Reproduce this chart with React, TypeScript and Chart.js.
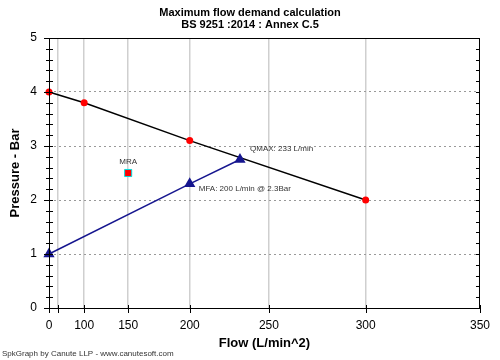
import React, { useEffect, useRef } from "react";
import { Chart, registerables, LinearScale } from "chart.js";

Chart.register(...registerables);

class SquareScale extends LinearScale {
  static id = "square";
  static defaults = { ticks: { callback: (v: any) => String(v) } };
  getPixelForValue(value: number) {
    if (value === null || value === undefined) return NaN;
    const a = this.min * this.min;
    const b = this.max * this.max;
    return this.getPixelForDecimal((value * value - a) / (b - a));
  }
  getValueForPixel(pixel: number) {
    const a = this.min * this.min;
    const b = this.max * this.max;
    const t = this.getDecimalForPixel(pixel);
    return Math.sqrt(Math.max(0, a + t * (b - a)));
  }
}
Chart.register(SquareScale as any);

// ---- data ----
const flowTicks = [0, 50, 100, 150, 200, 250, 300, 350];
const hiddenFlowLabels = [50];
const pressureTicks = [0, 1, 2, 3, 4, 5];
const pressureMinorStep = 0.2;

const supplyFlow = [0, 100, 200, 300];
const supplyPressure = [4.0, 3.8, 3.1, 2.0];

const demandFlow = [0, 200, 233];
const demandPressure = [1.0, 2.3, 2.75];

const mraFlow = [150];
const mraPressure = [2.5];

const titleLines = ["Maximum flow demand calculation", "BS 9251 :2014 : Annex C.5"];
const annotations = [
  { text: "QMAX: 233 L/min", x: 233, y: 2.75, dx: 10, dy: -11, align: "left" },
  { text: "MFA: 200 L/min @ 2.3Bar", x: 200, y: 2.3, dx: 9, dy: 5, align: "left" },
  { text: "MRA", x: 150, y: 2.5, dx: 0, dy: -11, align: "center" },
];
const footer = "SpkGraph by Canute LLP - www.canutesoft.com";

const BLUE = "#16168f";
const FONT = "Arial, 'Liberation Sans', sans-serif";

const decorPlugin = {
  id: "decor",
  afterDraw(chart: any) {
    const { ctx, chartArea: ca, scales } = chart;
    const xs = scales.x;
    const ys = scales.y;
    ctx.save();
    // frame
    ctx.strokeStyle = "#000";
    ctx.lineWidth = 1;
    ctx.strokeRect(ca.left + 0.5, ca.top + 0.5, ca.right - ca.left - 1, ca.bottom - ca.top);
    // y ticks
    ctx.beginPath();
    const n = Math.round((ys.max - ys.min) / pressureMinorStep);
    for (let i = 0; i <= n; i++) {
      const v = ys.min + i * pressureMinorStep;
      const py = Math.round(ys.getPixelForValue(v)) + 0.5;
      const major = Math.abs(v - Math.round(v)) < 1e-6;
      ctx.moveTo(ca.left - (major ? 5 : 3), py);
      ctx.lineTo(ca.left + 4, py);
      ctx.moveTo(ca.right - 4, py);
      ctx.lineTo(ca.right, py);
    }
    // x ticks
    flowTicks.forEach((f) => {
      const px = Math.round(xs.getPixelForValue(f)) + 0.5;
      ctx.moveTo(px, ca.bottom - 3);
      ctx.lineTo(px, ca.bottom + 5);
    });
    ctx.stroke();

    // titles
    ctx.fillStyle = "#000";
    ctx.textAlign = "center";
    ctx.textBaseline = "middle";
    ctx.font = `bold 11px ${FONT}`;
    ctx.fillText(titleLines[0], 250, 13);
    ctx.fillText(titleLines[1], 250, 25);

    // annotations
    ctx.font = `8px ${FONT}`;
    ctx.fillStyle = "#333";
    annotations.forEach((a) => {
      ctx.textAlign = a.align as CanvasTextAlign;
      ctx.fillText(a.text, xs.getPixelForValue(a.x) + a.dx, ys.getPixelForValue(a.y) + a.dy);
    });

    // footer
    ctx.textAlign = "left";
    ctx.font = `8px ${FONT}`;
    ctx.fillStyle = "#333";
    ctx.fillText(footer, 2, 354);
    ctx.restore();
  },
};

export default function App() {
  const ref = useRef<HTMLCanvasElement>(null);
  useEffect(() => {
    document.body.style.margin = "0";
    const chart = new Chart(ref.current!, {
      type: "scatter",
      data: {
        datasets: [
          {
            label: "Demand",
            data: demandFlow.map((x, i) => ({ x, y: demandPressure[i] })),
            showLine: true,
            borderColor: BLUE,
            borderWidth: 1.5,
            pointStyle: "triangle",
            pointRadius: 5,
            backgroundColor: BLUE,
            pointBorderColor: BLUE,
            clip: false as any,
          },
          {
            label: "Supply",
            data: supplyFlow.map((x, i) => ({ x, y: supplyPressure[i] })),
            showLine: true,
            borderColor: "#000",
            borderWidth: 1.5,
            pointStyle: "circle",
            pointRadius: 3.5,
            backgroundColor: "#f00",
            pointBorderColor: "#f00",
            pointBorderWidth: 0,
            clip: false as any,
          },
          {
            label: "MRA",
            data: mraFlow.map((x, i) => ({ x, y: mraPressure[i] })),
            pointStyle: "rect",
            pointRadius: 5,
            backgroundColor: "#f00",
            pointBorderColor: "#00dede",
            pointBorderWidth: 1,
          },
        ],
      },
      options: {
        responsive: false,
        animation: false,
        layout: { padding: { top: 38, right: 20, left: 0, bottom: 0 } },
        plugins: { legend: { display: false }, tooltip: { enabled: false } },
        scales: {
          x: {
            type: "square" as any,
            min: 0,
            max: 350,
            afterFit: (s: any) => {
              s.height = 52;
            },
            afterBuildTicks: (s: any) => {
              s.ticks = flowTicks.map((v) => ({ value: v }));
            },
            ticks: {
              autoSkip: false,
              maxRotation: 0,
              padding: 10,
              color: "#000",
              font: { family: FONT, size: 12 },
              callback: (v: any) => (hiddenFlowLabels.includes(v) ? "" : String(v)),
            },
            grid: {
              drawTicks: false,
              color: (c: any) =>
                c.tick && c.tick.value > 0 && c.tick.value < 350 ? "#cfcfcf" : "rgba(0,0,0,0)",
              lineWidth: 1.5,
            },
            border: { display: false },
            title: {
              display: true,
              text: "Flow (L/min^2)",
              color: "#000",
              font: { family: FONT, size: 13, weight: "bold" },
              padding: { top: 0, bottom: 9 },
            },
          } as any,
          y: {
            type: "linear",
            min: 0,
            max: 5,
            afterFit: (s: any) => {
              s.width = 49;
            },
            afterBuildTicks: (s: any) => {
              s.ticks = pressureTicks.map((v) => ({ value: v }));
            },
            ticks: {
              padding: 12,
              color: "#000",
              font: { family: FONT, size: 12 },
            },
            grid: {
              drawTicks: false,
              color: (c: any) =>
                c.tick && c.tick.value > 0 && c.tick.value < 5 ? "#999" : "rgba(0,0,0,0)",
              lineWidth: 1,
            },
            border: { display: false, dash: [2, 3] },
            title: {
              display: true,
              text: "Pressure - Bar",
              color: "#000",
              font: { family: FONT, size: 13, weight: "bold" },
              padding: { top: 8, bottom: 0 },
            },
          } as any,
        },
      },
      plugins: [decorPlugin],
    });
    return () => chart.destroy();
  }, []);
  return <canvas ref={ref} width={500} height={360} style={{ display: "block" }} />;
}
